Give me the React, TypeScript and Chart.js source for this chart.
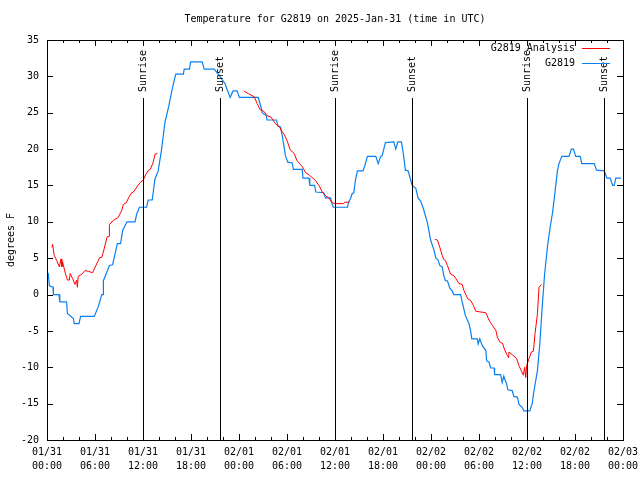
import React, { useEffect, useRef } from "react";
import { Chart, registerables } from "chart.js";

Chart.register(...registerables);

// ---- data ----
const chartTitle = "Temperature for G2819 on 2025-Jan-31 (time in UTC)";
const yAxisTitle = "degrees F";
const analysisLabel = "G2819 Analysis";
const stationLabel = "G2819";

const xTickDates = ["01/31", "01/31", "01/31", "01/31", "02/01", "02/01", "02/01", "02/01", "02/02", "02/02", "02/02", "02/02", "02/03"];
const xTickTimes = ["00:00", "06:00", "12:00", "18:00", "00:00", "06:00", "12:00", "18:00", "00:00", "06:00", "12:00", "18:00", "00:00"];

// hours since 2025-01-31 00:00 UTC
const sunEventHours = [12.0, 21.65, 36.0, 45.65, 59.95, 69.65];
const sunEventLabels = ["Sunrise", "Sunset", "Sunrise", "Sunset", "Sunrise", "Sunset"];

const stationHours = [
  0.15, 0.3, 0.75, 0.8, 1.5, 1.6, 2.45, 2.55, 3.3, 3.4, 4.0, 4.2, 5.9, 6.4, 6.85, 7.0, 7.05, 7.45, 7.8, 8.2,
  8.8, 9.2, 9.45, 10.0, 11.0, 11.2, 11.55, 12.45, 12.65, 13.15, 13.5, 13.9, 14.3, 14.75, 15.2, 15.8, 16.1, 17.05,
  17.15, 17.8, 17.95, 19.4, 19.65, 20.9, 21.55, 21.85, 22.25, 22.55, 22.9, 23.25, 23.75, 24.05, 26.4, 26.7,
  26.9, 27.4, 27.5, 28.7, 28.85, 29.2, 29.4, 29.6, 29.8, 30.1, 30.65, 30.8, 31.9, 32.0, 32.75, 32.85, 33.45,
  33.6, 34.6, 34.8, 35.45, 35.65, 35.8, 37.55, 37.7, 37.95, 38.15, 38.35, 38.55, 38.8, 39.5, 39.7, 40.05, 41.1,
  41.4, 41.7, 41.9, 42.3, 43.35, 43.6, 43.85, 44.3, 44.55, 44.7, 44.8, 45.15, 45.3, 45.65, 46.1, 46.4, 46.7,
  47.05, 47.55, 47.95, 48.4, 48.6, 48.85, 49.1, 49.4, 49.6, 49.8, 50.05, 50.35, 50.65, 50.85, 51.7, 51.9,
  52.3, 52.75, 52.95, 53.1, 53.8, 53.9, 54.1, 54.4, 54.85, 54.95, 55.25, 55.45, 55.9, 55.95, 56.7, 56.9, 57.1,
  57.45, 57.6, 58.15, 58.35, 58.8, 59.0, 59.4, 59.6, 60.35, 60.65, 60.85, 61.3, 61.6, 61.9, 62.2, 62.55, 62.9,
  63.2, 63.5, 63.8, 64.0, 64.35, 65.25, 65.55, 65.8, 66.1, 66.65, 66.85, 68.4, 68.7, 69.65, 70.0, 70.4, 70.7,
  70.9, 71.1, 71.75,
];
const stationTemps = [
  3, 1.2, 1, 0, 0, -1, -1, -2.6, -3.3, -4, -4, -3, -3, -1.7, 0, 0, 1.9, 3, 4, 4.1,
  7, 7, 8.8, 10, 10, 11, 12, 12, 13, 13, 15.9, 17, 19.8, 23.7, 25.8, 29, 30.3, 30.3,
  31, 31, 32, 32, 31, 31, 30.1, 29.6, 29, 28.1, 27.1, 28, 28, 27.1, 27.1, 26,
  25, 24.6, 24, 24, 23.2, 23, 21.9, 20.5, 19.1, 18.2, 18.1, 17.2, 17.2, 16, 16, 15, 15,
  14.1, 14, 13.3, 13.3, 12.4, 12, 12, 12.7, 13.2, 13.9, 14, 15.7, 17, 17, 17.6, 19, 19,
  18, 19, 19.1, 20.9, 21, 20, 21, 21, 19.3, 18, 17.1, 17, 16.4, 15, 14.6, 13.2, 12.9,
  11.8, 9.9, 7.5, 6, 5, 4.8, 4, 3.8, 2.6, 1.9, 1.9, 0.9, 0.5, 0, 0, -1,
  -2.9, -4, -5, -6.1, -6.1, -6.8, -6.1, -7, -7.7, -9.1, -9.3, -10.1, -10.1, -11, -11, -12.1, -11.2,
  -12.3, -13.1, -13.2, -14, -14.1, -15.1, -15.5, -16, -16, -15, -13.4, -10.5, -6.8, -1.7, 2.8, 6.5, 9.3,
  11.3, 14.1, 17, 18, 19, 19, 20, 20, 19, 19, 18, 18, 17.1, 17, 16, 16, 15,
  15, 16, 16,
];

// null entries break the analysis line into its three segments
const analysisHours = [
  0.6, 0.7, 0.9, 1.2, 1.55, 1.75, 1.85, 1.95, 2.25, 2.55, 2.8, 2.9, 3.2, 3.5, 3.7, 3.8, 3.9, 4.35, 4.75, 5.15,
  5.7, 6.2, 6.6, 6.85, 7.15, 7.5, 7.75, 7.8, 8.3, 8.9, 9.35, 9.55, 9.9, 10.2, 10.5, 10.8, 11.3, 11.65, 12.0,
  12.4, 12.7, 12.9, 13.25, 13.5, 13.8,
  18.0,
  24.6, 25.2, 25.9, 26.25, 26.65, 27.1, 27.5, 28.0, 28.55, 29.1, 29.25, 29.65, 30.0, 30.4, 30.9, 31.25, 31.9,
  32.3, 32.8, 33.55, 34.1, 34.4, 34.8, 35.2, 35.6, 35.9, 37.05, 37.25, 37.8,
  42.0,
  48.5, 48.8, 49.1, 49.4, 49.6, 49.8, 50.05, 50.45, 50.85, 51.1, 51.5, 51.9, 52.1, 52.6, 52.95, 53.3, 53.6,
  54.85, 55.25, 55.7, 56.1, 56.3, 56.65, 56.95, 57.2, 57.55, 57.7, 57.75, 58.2, 58.7, 59.0, 59.3, 59.55, 59.7,
  59.85, 59.95, 60.25, 60.55, 60.8, 61.0, 61.3, 61.5, 61.8,
];
const analysisTemps = [
  6.5, 6.9, 5.4, 4.7, 3.8, 4.9, 3.8, 4.5, 3.1, 2, 2, 2.9, 2.2, 1.4, 2, 1, 2.5, 2.8, 3.3, 3.2,
  3, 4.2, 5.1, 5.1, 6.3, 7.9, 8, 9.6, 10.2, 10.6, 11.6, 12.4, 12.6, 13.3, 13.9, 14.1, 14.9, 15.4, 15.7,
  16.6, 17.1, 17.2, 18.1, 19.3, 19.4,
  null,
  28, 27.6, 27.2, 26.3, 25.4, 25.2, 24.6, 24.4, 23.5, 23, 22.6, 22, 21.2, 19.9, 19.4, 18.4, 17.6,
  16.8, 16.4, 15.7, 14.8, 14.1, 13.6, 13.3, 12.7, 12.5, 12.5, 12.7, 12.7,
  null,
  7.6, 7.5, 6.5, 5.4, 4.8, 4.7, 4, 2.8, 2.6, 2.2, 1.5, 1.4, 0.6, -0.6, -0.8, -1.5, -2.3,
  -2.5, -3.5, -4.3, -4.9, -5.9, -6.6, -6.7, -7.6, -8.4, -8.7, -7.9, -8.3, -8.8, -9.8, -10.5, -11.1, -10,
  -11.4, -9.8, -8.8, -7.9, -7.8, -5.4, -2.7, 1, 1.4,
];

const FONT = "'DejaVu Sans Mono', 'Liberation Mono', monospace";
const RED = "#ff0000";
const BLUE = "#0a80f0";

const gnuplotPlugin = {
  id: "gnuplotDecor",
  beforeDraw(chart: any) {
    const ctx = chart.ctx;
    ctx.save();
    ctx.fillStyle = "#ffffff";
    ctx.fillRect(0, 0, chart.width, chart.height);
    ctx.restore();
  },
  afterDatasetsDraw(chart: any) {
    const ctx = chart.ctx;
    const area = chart.chartArea;
    const xs = chart.scales.x;
    const ys = chart.scales.y;
    ctx.save();
    // sun event lines + labels
    ctx.strokeStyle = "#000";
    ctx.lineWidth = 1;
    ctx.font = `10px ${FONT}`;
    ctx.fillStyle = "#000";
    sunEventHours.forEach((h, i) => {
      const px = Math.round(xs.getPixelForValue(h)) + 0.5;
      ctx.beginPath();
      ctx.moveTo(px, 98);
      ctx.lineTo(px, area.bottom);
      ctx.stroke();
      ctx.save();
      ctx.translate(px, 92);
      ctx.rotate(-Math.PI / 2);
      ctx.textAlign = "left";
      ctx.textBaseline = "middle";
      ctx.fillText(sunEventLabels[i], 0, 0);
      ctx.restore();
    });
    // frame
    ctx.strokeRect(Math.round(area.left) + 0.5, Math.round(area.top) + 0.5, Math.round(area.right - area.left), Math.round(area.bottom - area.top));
    // x ticks (inward, mirrored)
    for (let h = 0; h <= 72; h += 2) {
      const px = Math.round(xs.getPixelForValue(h)) + 0.5;
      const len = h % 6 === 0 ? 6 : 3;
      ctx.beginPath();
      ctx.moveTo(px, area.bottom);
      ctx.lineTo(px, area.bottom - len);
      ctx.moveTo(px, area.top);
      ctx.lineTo(px, area.top + len);
      ctx.stroke();
    }
    for (let v = -20; v <= 35; v += 5) {
      const py = Math.round(ys.getPixelForValue(v)) + 0.5;
      ctx.beginPath();
      ctx.moveTo(area.left, py);
      ctx.lineTo(area.left + 6, py);
      ctx.moveTo(area.right, py);
      ctx.lineTo(area.right - 6, py);
      ctx.stroke();
    }
    // title
    ctx.textAlign = "center";
    ctx.textBaseline = "middle";
    ctx.fillText(chartTitle, (area.left + area.right) / 2, 19);
    // y title
    ctx.save();
    ctx.translate(11, (area.top + area.bottom) / 2);
    ctx.rotate(-Math.PI / 2);
    ctx.fillText(yAxisTitle, 0, 0);
    ctx.restore();
    // legend
    const items = [
      { label: analysisLabel, color: RED, y: 48 },
      { label: stationLabel, color: BLUE, y: 63 },
    ];
    items.forEach((it) => {
      ctx.textAlign = "right";
      ctx.fillStyle = "#000";
      ctx.fillText(it.label, 575, it.y);
      ctx.strokeStyle = it.color;
      ctx.beginPath();
      ctx.moveTo(582, it.y + 0.5);
      ctx.lineTo(610, it.y + 0.5);
      ctx.stroke();
    });
    ctx.restore();
  },
};

export default function App() {
  const ref = useRef<HTMLCanvasElement | null>(null);
  useEffect(() => {
    if (!ref.current) return;
    const chart = new Chart(ref.current, {
      type: "line",
      data: {
        datasets: [
          {
            label: analysisLabel,
            data: analysisHours.map((h, i) => ({ x: h, y: analysisTemps[i] as any })),
            borderColor: RED,
            borderWidth: 1,
            pointRadius: 0,
            spanGaps: false,
            tension: 0,
          },
          {
            label: stationLabel,
            data: stationHours.map((h, i) => ({ x: h, y: stationTemps[i] })),
            borderColor: BLUE,
            borderWidth: 1.2,
            pointRadius: 0,
            tension: 0,
          },
        ],
      },
      options: {
        animation: false,
        responsive: false,
        layout: { padding: { top: 40, right: 17, left: 0, bottom: 0 } },
        plugins: {
          legend: { display: false },
          title: { display: false },
          tooltip: { enabled: false },
        },
        scales: {
          x: {
            type: "linear",
            min: 0,
            max: 72,
            grid: { display: false },
            border: { display: false },
            afterFit: (s: any) => {
              s.height = 40;
            },
            afterBuildTicks: (s: any) => {
              s.ticks = xTickDates.map((_, i) => ({ value: i * 6 }));
            },
            ticks: {
              autoSkip: false,
              maxRotation: 0,
              minRotation: 0,
              padding: -3,
              color: "#000",
              font: { family: FONT, size: 10, lineHeight: 1.4 },
              callback: (v: any) => {
                const i = Math.round(Number(v) / 6);
                return [xTickDates[i], xTickTimes[i]];
              },
            },
          },
          y: {
            min: -20,
            max: 35,
            grid: { display: false },
            border: { display: false },
            afterFit: (s: any) => {
              s.width = 47;
            },
            ticks: {
              stepSize: 5,
              padding: 0,
              color: "#000",
              font: { family: FONT, size: 10 },
            },
          },
        },
      },
      plugins: [gnuplotPlugin],
    });
    return () => chart.destroy();
  }, []);
  return (
    <div style={{ position: "absolute", left: 0, top: 0, width: 640, height: 480, background: "#fff" }}>
      <canvas ref={ref} width={640} height={480} />
    </div>
  );
}
